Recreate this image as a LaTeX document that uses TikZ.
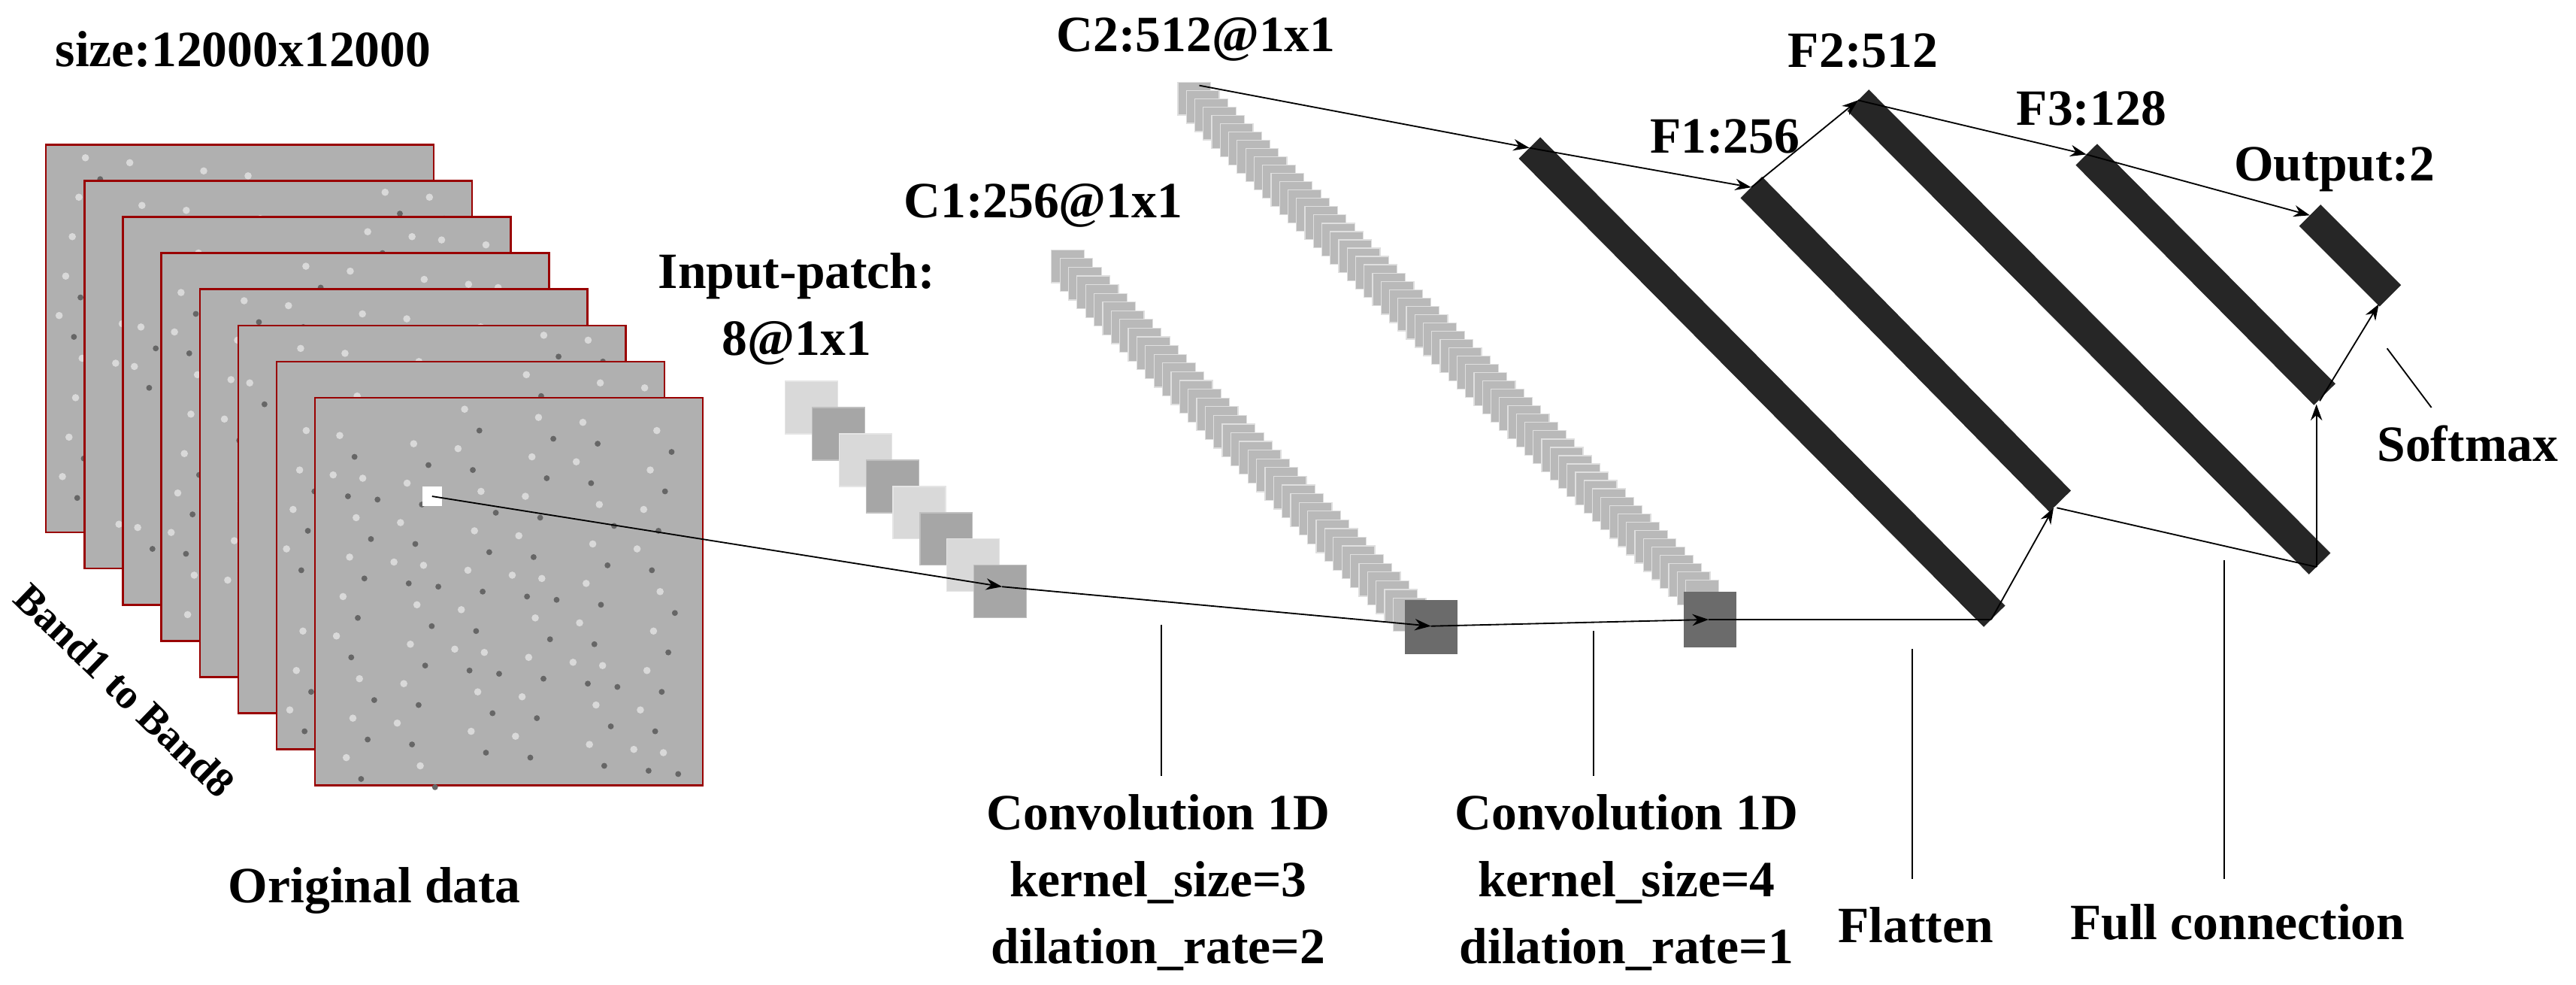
\documentclass[tikz,border=0pt]{standalone}
\usepackage{fontspec}
\setmainfont{Liberation Serif}
\usetikzlibrary{arrows.meta}
\begin{document}
\begin{tikzpicture}[x=0.025cm,y=-0.025cm,
  lbl/.style={font=\fontsize{22}{29}\selectfont\bfseries,align=center,inner sep=0},
  conn/.style={line width=0.6pt,-{Stealth[length=7pt,width=5pt]}},
  plain/.style={line width=0.6pt},
  bar/.style={line width=4.6mm,draw=black!85},
  frame/.style={draw=red!60!black,line width=0.8pt,fill=gray!62},
  light/.style={fill=gray!30,draw=gray!20},
  dark/.style={fill=gray!70,draw=gray!50},
  cube/.style={fill=gray!55,draw=gray!25,line width=0.4pt}]
\useasboundingbox (0,0) rectangle (1568,599);
% frames
\foreach \i in {0,...,7}{
  \fill[frame] ({28+23.4*\i},{88+22*\i}) rectangle ++(236,236);
  \foreach \k in {1,...,60}{
    \pgfmathsetmacro{\rx}{28+23.4*\i+6+mod(\k*37+\i*11,220)}
    \pgfmathsetmacro{\ry}{88+22*\i+6+mod(\k*53+\i*7,220)}
    \fill[gray!30] (\rx,\ry) circle (2.2);
    \fill[gray!80!black] ({\rx+9},{\ry+13}) circle (1.8);
  }
}
\node[lbl] (size) at (148,30) {size:12000x12000};
\node[lbl,font=\fontsize{18}{22}\selectfont\bfseries,rotate=-44] (band) at (76,420) {Band1 to Band8};
\node[lbl] (orig) at (228,542) {Original data};
\node[fill=white,minimum size=12*0.025cm,inner sep=0] (patch) at (263,302) {};
% input patch
\node[lbl] (inlbl) at (485,188) {Input-patch:\\8@1x1};
\foreach \j in {0,...,7}{
  \ifodd\j \fill[dark] ({478+16.4*\j},{232+16*\j}) rectangle ++(32,32);
  \else \fill[light] ({478+16.4*\j},{232+16*\j}) rectangle ++(32,32);\fi
}
\coordinate (inp) at (610,357);
% C1 stack
\node[lbl] (c1lbl) at (635,125) {C1:256@1x1};
\foreach \j in {0,...,40}{
  \filldraw[cube] ({640+5.2*\j},{152+5.3*\j}) rectangle ++(20,20);
}
\fill[gray!55!black!80] (855,365) rectangle (887,398);
\coordinate (c1) at (871,381);
% C2 stack
\node[lbl] (c2lbl) at (728,24) {C2:512@1x1};
\foreach \j in {0,...,60}{
  \filldraw[cube] ({717+5.15*\j},{50+5.05*\j}) rectangle ++(20,20);
}
\fill[gray!55!black!80] (1025,360) rectangle (1057,394);
\coordinate (c2) at (1040,377);
\coordinate (c2top) at (730,52);
% bars
\coordinate (fl1) at (931,90);  \coordinate (fl2) at (1214,375);
\coordinate (f11) at (1066,114); \coordinate (f12) at (1254,305);
\coordinate (f21) at (1131,61);  \coordinate (f22) at (1412,343);
\coordinate (f31) at (1270,94);  \coordinate (f32) at (1415,240);
\coordinate (o1) at (1406,131);  \coordinate (o2) at (1455,180);
\draw[bar] (fl1) -- (fl2);
\draw[bar] (f11) -- (f12);
\draw[bar] (f21) -- (f22);
\draw[bar] (f31) -- (f32);
\draw[bar] (o1) -- (o2);
\node[lbl] (f1lbl) at (1050,83) {F1:256};
\node[lbl] (f2lbl) at (1134,31) {F2:512};
\node[lbl] (f3lbl) at (1273,66) {F3:128};
\node[lbl] (olbl) at (1421,103) {Output:2};
% connectors
\draw[conn] (patch.center) -- (inp);
\draw[conn] (inp) -- (c1);
\draw[conn] (c1) -- (c2);
\draw[plain] (c2) -- (1212,377) coordinate (flb);
\draw[conn] (flb) -- (1250,309);
\draw[conn] (c2top) -- (fl1);
\draw[conn] (fl1) -- (f11);
\draw[conn] (f11) -- (f21);
\draw[plain] (1252,309) -- (1410,345) coordinate (f2b);
\draw[conn] (f2b) -- (1410,246);
\draw[conn] (f21) -- (f31);
\draw[conn] (f31) -- (o1);
\draw[conn] (1412,244) -- (1448,185);
% label lines
\draw[plain] (707,380) coordinate (l1a) -- (707,472) coordinate (l1b);
\draw[plain] (970,384) coordinate (l2a) -- (970,472) coordinate (l2b);
\draw[plain] (1164,395) coordinate (l3a) -- (1164,535) coordinate (l3b);
\draw[plain] (1354,341) coordinate (l4a) -- (1354,535) coordinate (l4b);
\draw[plain] (1453,212) coordinate (l5a) -- (1480,248) coordinate (l5b);
\node[lbl] (conv1) at (705,537) {Convolution 1D\\kernel\_size=3\\dilation\_rate=2};
\node[lbl] (conv2) at (990,537) {Convolution 1D\\kernel\_size=4\\dilation\_rate=1};
\node[lbl] (flat) at (1166,563) {Flatten};
\node[lbl] (full) at (1362,561) {Full connection};
\node[lbl] (soft) at (1502,270) {Softmax};
\end{tikzpicture}
\end{document}
